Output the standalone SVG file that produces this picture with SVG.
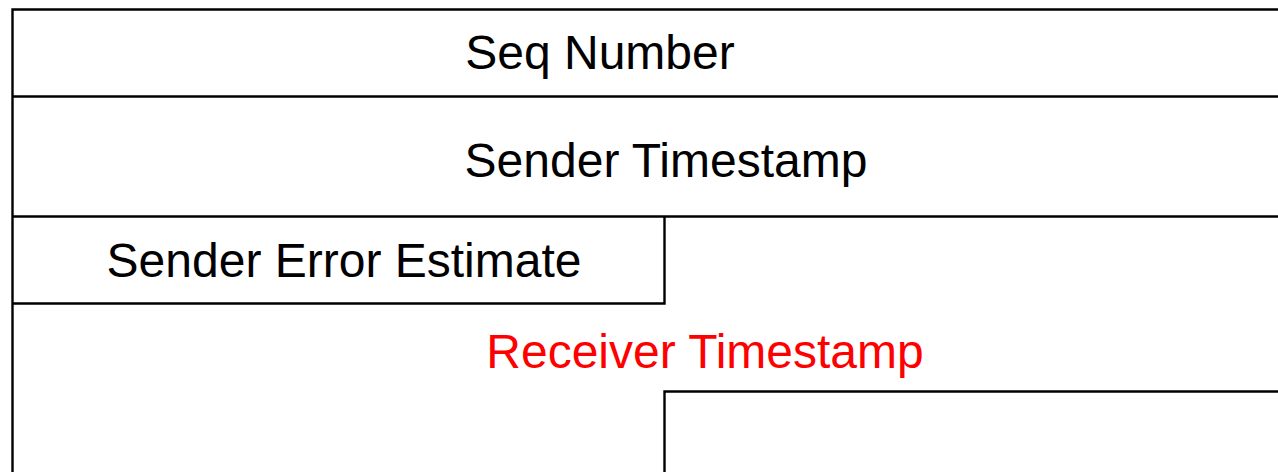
<svg xmlns="http://www.w3.org/2000/svg" width="1278" height="472" viewBox="0 0 1278 472">
  <style>
    .frame { fill: none; stroke: #000; stroke-width: 2.4; }
    .label { font-family: "Liberation Sans", Arial, sans-serif; font-size: 48px; text-anchor: middle; fill: #000; }
    .red { fill: #ff0000; }
  </style>
  <rect width="1278" height="472" fill="#fff"/>
  <g id="connectors">
    <!-- outer frame: top edge and left edge (open at right and bottom) -->
    <path class="frame" d="M1278,9.5 H12.5 V472"/>
  </g>
  <g id="seq-number">
    <line class="frame" x1="12.5" y1="96.5" x2="1278" y2="96.5"/>
    <text class="label" x="600" y="69">Seq Number</text>
  </g>
  <g id="sender-timestamp">
    <line class="frame" x1="12.5" y1="216.5" x2="1278" y2="216.5"/>
    <text class="label" x="666" y="177">Sender Timestamp</text>
  </g>
  <g id="sender-error-estimate">
    <path class="frame" d="M664.5,216.5 V303.5 H12.5"/>
    <text class="label" x="344" y="277">Sender Error Estimate</text>
  </g>
  <g id="receiver-timestamp">
    <path class="frame" d="M664.5,472 V391.5 H1278"/>
    <text class="label red" x="705" y="368">Receiver Timestamp</text>
  </g>
</svg>
